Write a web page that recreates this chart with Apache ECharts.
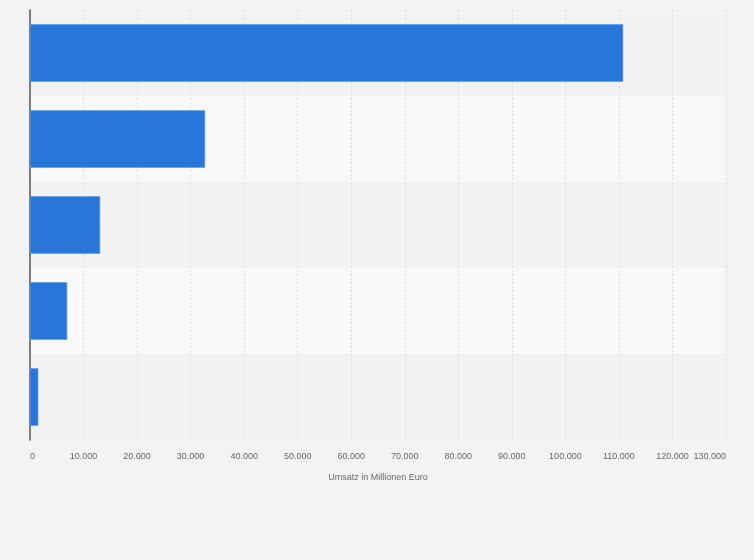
<!DOCTYPE html>
<html>
	<head>
		<meta charset="UTF-8">
		<title>Umsatz</title>
		<style>
			html, body { margin: 0; padding: 0; background: #f3f3f3; }
			#chart { width: 754px; height: 560px; }
		</style>
	</head>
	<body>
		<div id="chart"></div>
		<script src="https://cdn.jsdelivr.net/npm/echarts@6/dist/echarts.min.js"></script>
		<script type="text/javascript">
			// Kategorien sind im Bild nicht beschriftet
			var categories = ['Kategorie 1', 'Kategorie 2', 'Kategorie 3', 'Kategorie 4', 'Kategorie 5'];
			var umsatz = [110800, 32700, 13100, 6950, 1550];
			var axisName = 'Umsatz in Millionen Euro';

			var myChart = echarts.init(document.getElementById('chart'));

			function fmt(v) {
				return String(v).replace(/\B(?=(\d{3})+(?!\d))/g, '.');
			}

			var option = {
				backgroundColor: '#f3f3f3',
				animation: false,
				grid: {
					left: 30,
					right: 28,
					top: 10,
					bottom: 120
				},
				xAxis: {
					type: 'value',
					min: 0,
					max: 130000,
					interval: 10000,
					name: axisName,
					nameLocation: 'middle',
					nameGap: 33,
					nameTextStyle: { color: '#666', fontSize: 9, fontFamily: 'Liberation Sans' },
					axisLine: { show: false },
					axisTick: { show: false },
					axisLabel: {
						color: '#666',
						fontSize: 9,
						fontFamily: 'Liberation Sans',
						margin: 12,
						alignMinLabel: 'left',
						alignMaxLabel: 'right',
						formatter: fmt
					},
					splitLine: {
						show: true,
						lineStyle: { color: '#dcdcdc', type: [2, 2], width: 1 }
					}
				},
				yAxis: {
					type: 'category',
					inverse: true,
					data: categories,
					axisLine: { show: true, lineStyle: { color: '#555', width: 1.5 } },
					axisTick: { show: false },
					axisLabel: { show: false },
					splitArea: {
						show: true,
						areaStyle: { color: ['#f2f2f2', '#f8f8f8'] }
					}
				},
				series: [
					{
						name: axisName,
						type: 'bar',
						data: umsatz,
						barWidth: '67%',
						itemStyle: {
							color: '#2776dc',
							borderColor: '#5c9ae6',
							borderWidth: 0.6
						}
					}
				]
			};

			myChart.setOption(option);
		</script>
	</body>
</html>
